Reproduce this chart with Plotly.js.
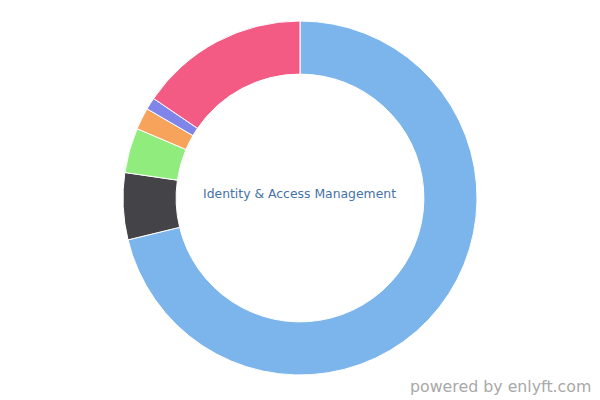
<!DOCTYPE html>
<html>
<head>
<meta charset="utf-8">
<script src="https://cdn.plot.ly/plotly-3.0.1.min.js"></script>
<style>html,body{margin:0;padding:0;background:#fff;}#chart{width:600px;height:400px;}</style>
</head>
<body>
<div id="chart"></div>
<script>
const categories = ["Product 1", "Product 2", "Product 3", "Product 4", "Product 5", "Others"];
const shares = [71.2, 6.1, 4.1, 2.0, 1.1, 15.5];
const colors = ["#7cb5ec", "#434348", "#90ed7d", "#f7a35c", "#8085e9", "#f45b84"];
const centerLabel = "Identity & Access Management";
const credit = "powered by enlyft.com";

Plotly.newPlot("chart", [{
  type: "pie",
  labels: categories,
  values: shares,
  hole: 0.70,
  sort: false,
  direction: "clockwise",
  rotation: 0,
  textinfo: "none",
  marker: {colors: colors, line: {color: "#ffffff", width: 1}},
  showlegend: false
}], {
  width: 600, height: 400,
  margin: {l: 0, r: 0, t: 21, b: 25, pad: 0},
  paper_bgcolor: "#ffffff",
  annotations: [
    {text: centerLabel, x: 0.5, y: 0.5, xref: "paper", yref: "paper", showarrow: false, yshift: 5, xshift: -1,
     font: {family: "DejaVu Sans, sans-serif", size: 12.4, color: "#4572a7"}, xanchor: "center", yanchor: "middle"},
    {text: credit, x: 1, y: 0, xref: "paper", yref: "paper", showarrow: false,
     xanchor: "right", yanchor: "bottom", xshift: -7, yshift: -23,
     font: {family: "DejaVu Sans, sans-serif", size: 15.8, color: "#a8a8a8"}}
  ]
}, {displayModeBar: false, staticPlot: true});
</script>
</body>
</html>
